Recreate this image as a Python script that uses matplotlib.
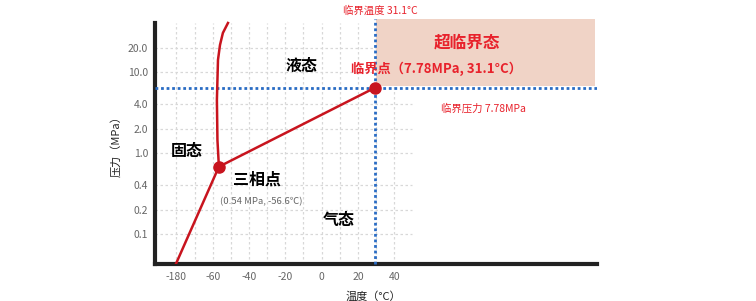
import numpy as np
import matplotlib
matplotlib.use("Agg")
import matplotlib.pyplot as plt
from matplotlib.patches import Rectangle

plt.rcParams['font.family'] = ['Noto Sans CJK SC', 'DejaVu Sans']

# x axis is a broken scale: the "-180" label sits in the slot of -80
x_ticks = [-80, -60, -40, -20, 0, 20, 40]
x_labels = ['-180', '-60', '-40', '-20', '0', '20', '40']
y_ticks = [0.1, 0.2, 0.4, 1.0, 2.0, 4.0, 10.0, 20.0]
y_labels = ['0.1', '0.2', '0.4', '1.0', '2.0', '4.0', '10.0', '20.0']

# points as drawn in the picture
triple_t, triple_p = -56.6, 0.68
crit_t, crit_p = 29.4, 6.4

# sublimation curve (bottom-left to triple point)
sub_t = [-80.3, triple_t]
sub_p = [0.043, triple_p]
# melting curve (triple point upwards)
melt_t = [triple_t, -57.4, -57.7, -57.1, -56.0, -54.4, -51.6]
melt_p = [triple_p, 1.45, 4.52, 14.1, 21.5, 30.3, 40.2]
# vaporisation curve
vap_t = [triple_t, crit_t]
vap_p = [triple_p, crit_p]

red = '#c8141e'
txt_red = '#e8222c'
blue = '#2a6cc4'
grey = '#666666'

fig = plt.figure(figsize=(7.56, 3.01), dpi=100)
ax = fig.add_axes([155/756, 1-264/301, (597-155)/756, (264-19)/301])
ax.set_yscale('log')
ax.set_xlim(-91.8, 151.7)
ax.set_ylim(0.043, 45.0)

# light dotted grid, only over the left part
for v in np.arange(-80, 41, 10):
    ax.plot([v, v], [0.043, 40.2], color='#d8d8d8', lw=0.9, ls=(0, (2, 2)), zorder=1)
for v in y_ticks:
    ax.plot([-91.8, 50], [v, v], color='#d8d8d8', lw=0.9, ls=(0, (2, 2)), zorder=1)

# supercritical region
ax.add_patch(Rectangle((crit_t + 0.8, 6.8), 150.6 - (crit_t + 0.8), 45.0 - 6.8,
                       facecolor='#f0d3c6', edgecolor='none', zorder=1, clip_on=False))

# critical lines
ax.plot([crit_t, crit_t], [0.043, 45.0], color=blue, lw=2, ls=(0, (1, 1)), zorder=3, clip_on=False)
ax.plot([-91.8, 151.7], [crit_p, crit_p], color=blue, lw=2, ls=(0, (1, 1)), zorder=3)

# phase curves
ax.plot(sub_t, sub_p, color=red, lw=1.8, zorder=4)
ax.plot(melt_t, melt_p, color=red, lw=1.8, zorder=4, clip_on=False)
ax.plot(vap_t, vap_p, color=red, lw=1.8, zorder=4)
ax.plot([triple_t, crit_t], [triple_p, crit_p], 'o', color=red, ms=8, zorder=5)

# spines
for s in ['top', 'right']:
    ax.spines[s].set_visible(False)
ax.spines['left'].set_linewidth(3)
ax.spines['bottom'].set_linewidth(3)
ax.spines['left'].set_color('#222222')
ax.spines['bottom'].set_color('#222222')
ax.spines['left'].set_bounds(0.043, 40.2)

ax.set_xticks(x_ticks)
ax.set_xticklabels(x_labels)
ax.set_yticks(y_ticks)
ax.set_yticklabels(y_labels)
ax.minorticks_off()
ax.tick_params(length=0, labelsize=7.5, colors=grey, pad=6)
ax.tick_params(axis='y', pad=5)

ax.set_xlabel('温度（°C）', fontsize=8, color='#222222', labelpad=5)
ax.xaxis.set_label_coords((373-155)/(597-155), -0.11)
ax.set_ylabel('压力（MPa）', fontsize=8, color='#222222')
ax.yaxis.set_label_coords(-(155-121)/(597-155), 0.49)

# region labels
ax.text(-10.8, 12.0, '液态', fontsize=11.5, fontweight='bold', ha='center', va='center', zorder=6)
ax.text(-74.3, 1.05, '固态', fontsize=11.5, fontweight='bold', ha='center', va='center', zorder=6)
ax.text(-35.8, 0.47, '三相点', fontsize=11.5, fontweight='bold', ha='center', va='center', zorder=6)
ax.text(-33.0, 0.25, '(0.54 MPa, -56.6℃)', fontsize=6.8, color=grey, ha='center', va='center', zorder=6)
ax.text(9.7, 0.15, '气态', fontsize=11.5, fontweight='bold', ha='center', va='center', zorder=6)

ax.text(79.9, 23.0, '超临界态', fontsize=12, fontweight='bold', color=txt_red,
        ha='center', va='center', zorder=6, clip_on=False)
ax.text(63.4, 11.0, '临界点（7.78MPa, 31.1°C）', fontsize=9.5, fontweight='bold', color=txt_red,
        ha='center', va='center', zorder=6)
ax.text(89.0, 3.5, '临界压力 7.78MPa', fontsize=7.5, color=txt_red, ha='center', va='center', zorder=6)
fig.text(380/756, 1-10.7/301, '临界温度 31.1°C', fontsize=7.5, color=txt_red, ha='center', va='center')

fig.savefig('out.png', dpi=100)
